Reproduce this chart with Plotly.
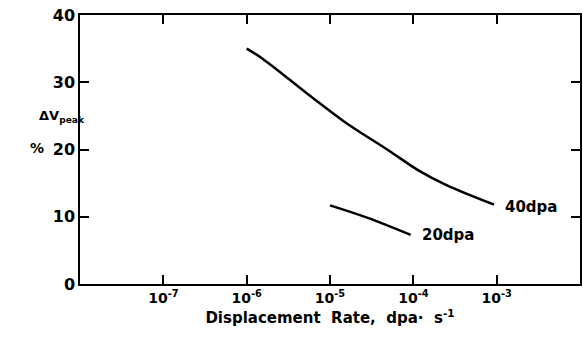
import plotly.graph_objects as go

# 40 dpa curve
rate_40 = [1.0e-6, 1.55e-6, 5.6e-6, 1.5e-5, 5.0e-5, 1.15e-4, 2.5e-4, 9.3e-4]
dv_40 = [35.0, 33.5, 28.1, 24.1, 19.9, 16.9, 14.7, 11.8]
# 20 dpa curve
rate_20 = [1.0e-5, 2.9e-5, 9.3e-5]
dv_20 = [11.7, 9.8, 7.3]

xtick_vals = [1e-7, 1e-6, 1e-5, 1e-4, 1e-3]
xtick_text = ["10<sup>-7</sup>", "10<sup>-6</sup>", "10<sup>-5</sup>", "10<sup>-4</sup>", "10<sup>-3</sup>"]
ytick_vals = [0, 10, 20, 30, 40]

FONT = "DejaVu Sans"

fig = go.Figure()
fig.add_trace(go.Scatter(x=rate_40, y=dv_40, mode="lines",
                         line=dict(color="black", width=2.5, shape="spline", smoothing=1.0),
                         showlegend=False, hoverinfo="skip"))
fig.add_trace(go.Scatter(x=rate_20, y=dv_20, mode="lines",
                         line=dict(color="black", width=2.5, shape="spline", smoothing=1.0),
                         showlegend=False, hoverinfo="skip"))

fig.update_layout(
    width=583, height=339,
    margin=dict(l=80, r=1, t=15, b=55),
    paper_bgcolor="white", plot_bgcolor="white",
    font=dict(family=FONT, color="black", size=14),
)
fig.update_xaxes(
    type="log", range=[-8, -2],
    tickvals=xtick_vals, ticktext=xtick_text,
    ticks="inside", ticklen=9, tickwidth=1.5, tickcolor="black",
    showline=True, linecolor="black", linewidth=1.5, mirror="ticks",
    showgrid=False, zeroline=False,
    tickfont=dict(family=FONT, size=14, weight="bold"),
    title=dict(text="Displacement  Rate,  dpa·  s<sup>-1</sup>",
               font=dict(family=FONT, size=15, weight="bold"), standoff=8),
)
fig.update_yaxes(
    range=[0, 40], tickvals=ytick_vals,
    ticks="inside", ticklen=9, tickwidth=1.5, tickcolor="black",
    showline=True, linecolor="black", linewidth=1.5, mirror="ticks",
    showgrid=False, zeroline=False,
    tickfont=dict(family=FONT, size=16, weight="bold"),
)

fig.add_annotation(text="ΔV<sub>peak</sub>", xref="paper", yref="paper",
                   x=-0.087, y=0.622, showarrow=False,
                   font=dict(family=FONT, size=13, weight="bold"))
fig.add_annotation(text="%", xref="paper", yref="paper",
                   x=-0.105, y=0.505, showarrow=False,
                   font=dict(family=FONT, size=14, weight="bold"))
fig.add_annotation(text="40dpa", x=-2.92, y=11.4, xanchor="left", showarrow=False,
                   font=dict(family=FONT, size=15, weight="bold"))
fig.add_annotation(text="20dpa", x=-3.925, y=7.3, xanchor="left", showarrow=False,
                   font=dict(family=FONT, size=15, weight="bold"))

fig.write_html("out.html")
